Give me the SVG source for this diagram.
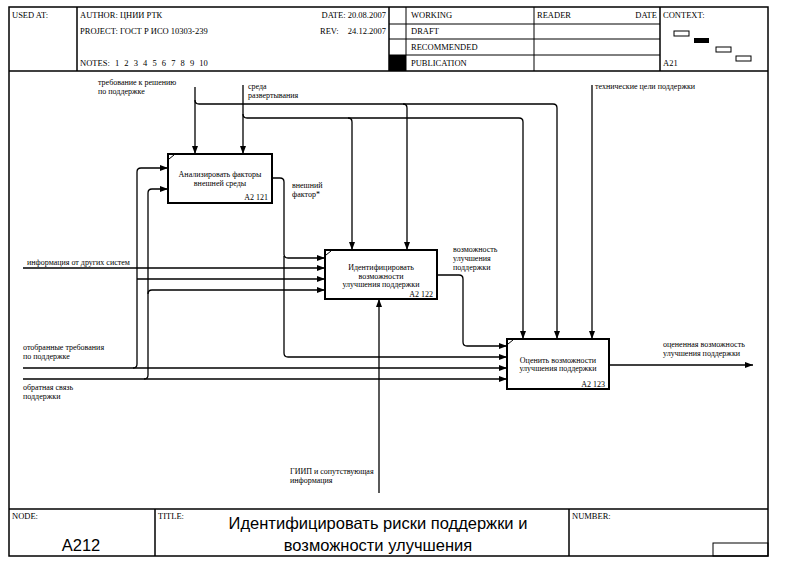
<svg xmlns="http://www.w3.org/2000/svg" width="786" height="565" viewBox="0 0 786 565">
<defs>
<marker id="ah" viewBox="0 0 8 6" refX="8" refY="3" markerWidth="8" markerHeight="6" markerUnits="userSpaceOnUse" orient="auto">
<path d="M0,0 L8,3 L0,6 z" fill="#000"/>
</marker>
<style>
.t{font-family:"Liberation Serif","Times New Roman",serif;font-size:8px;fill:#000}
.h{font-family:"Liberation Serif","Times New Roman",serif;font-size:8.5px;fill:#000}
.big{font-family:"Liberation Sans",Arial,sans-serif;font-size:16.5px;fill:#000}
.fr{fill:none;stroke:#000;stroke-width:1.5}
.ln{fill:none;stroke:#000;stroke-width:1}
.box{fill:#fff;stroke:#000;stroke-width:2}
.c{fill:none;stroke:#000;stroke-width:1.3}
.a{marker-end:url(#ah)}
</style>
</defs>
<rect width="786" height="565" fill="#fff"/>
<g id="frame">
<rect class="fr" x="9" y="7" width="759" height="549"/>
<line class="fr" x1="9" y1="71" x2="768" y2="71"/>
<line class="fr" x1="77" y1="7" x2="77" y2="71"/>
<line class="fr" x1="389" y1="7" x2="389" y2="71"/>
<line class="ln" x1="406" y1="7" x2="406" y2="71"/>
<line class="ln" x1="534" y1="7" x2="534" y2="71"/>
<line class="fr" x1="660" y1="7" x2="660" y2="71"/>
<line class="ln" x1="389" y1="24" x2="660" y2="24"/>
<line class="ln" x1="389" y1="39" x2="660" y2="39"/>
<line class="ln" x1="389" y1="55" x2="660" y2="55"/>
<rect x="389" y="55" width="17" height="16" fill="#000"/>
<rect x="674" y="31" width="15" height="5" fill="#fff" stroke="#000" stroke-width="1"/>
<rect x="694" y="38" width="15" height="5" fill="#000"/>
<rect x="716" y="47" width="15" height="5" fill="#fff" stroke="#000" stroke-width="1"/>
<rect x="736" y="56" width="15" height="5" fill="#fff" stroke="#000" stroke-width="1"/>
<text class="h" x="12" y="18">USED AT:</text>
<text class="h" x="80" y="18">AUTHOR:  ЦНИИ РТК</text>
<text class="h" x="80" y="34">PROJECT:  ГОСТ Р ИСО 10303-239</text>
<text class="h" x="80" y="66" word-spacing="3">NOTES:  1 2 3 4 5 6 7 8 9 10</text>
<text class="h" x="386" y="18" text-anchor="end">DATE:  20.08.2007</text>
<text class="h" x="320" y="34">REV:</text>
<text class="h" x="386" y="34" text-anchor="end">24.12.2007</text>
<text class="h" x="411" y="18">WORKING</text>
<text class="h" x="411" y="34">DRAFT</text>
<text class="h" x="411" y="50">RECOMMENDED</text>
<text class="h" x="411" y="66">PUBLICATION</text>
<text class="h" x="537" y="18">READER</text>
<text class="h" x="657" y="18" text-anchor="end">DATE</text>
<text class="h" x="663" y="18">CONTEXT:</text>
<text class="h" x="663" y="66">A21</text>
<line class="fr" x1="9" y1="509" x2="768" y2="509"/>
<line class="fr" x1="155" y1="509" x2="155" y2="556"/>
<line class="fr" x1="569" y1="509" x2="569" y2="556"/>
<rect class="ln" x="713" y="543" width="55" height="13"/>
<text class="h" x="12" y="519" font-size="7">NODE:</text>
<text class="h" x="158" y="519" font-size="7">TITLE:</text>
<text class="h" x="572" y="519" font-size="7">NUMBER:</text>
<text class="big" x="81" y="551" text-anchor="middle">A212</text>
<text class="big" x="378" y="529" text-anchor="middle">Идентифицировать риски  поддержки и</text>
<text class="big" x="378" y="551" text-anchor="middle">возможности  улучшения</text>
</g>
<g id="connectors">
<path class="c a" d="M195,87 V154"/>
<path class="c a" d="M195,100 q0,4 4,4 H553 q4,0 4,4 V339"/>
<path class="c a" d="M403,104 q4,0 4,4 V250"/>
<path class="c a" d="M243,85 V154"/>
<path class="c a" d="M243,114 q0,4 4,4 H519 q4,0 4,4 V339"/>
<path class="c a" d="M348,118 q4,0 4,4 V250"/>
<path class="c a" d="M592,85 V339"/>
<path class="c a" d="M23,268 H325"/>
<path class="c a" d="M23,368 H507"/>
<path class="c a" d="M133,368 q4,0 4,-4 V172 q0,-4 4,-4 H168"/>
<path class="c a" d="M137,279 H325"/>
<path class="c a" d="M23,379 H507"/>
<path class="c a" d="M144,379 q4,0 4,-4 V193 q0,-4 4,-4 H168"/>
<path class="c a" d="M148,294 q0,-4 4,-4 H325"/>
<path class="c a" d="M272,178 H280 q4,0 4,4 V254 q0,4 4,4 H325"/>
<path class="c a" d="M284,256 V353 q0,4 4,4 H507"/>
<path class="c a" d="M437,275 H459 q4,0 4,4 V342 q0,4 4,4 H507"/>
<path class="c a" d="M609,365 H753"/>
<path class="c a" d="M379,493 V299"/>
<text class="t" x="98" y="85">требование к решению</text>
<text class="t" x="98" y="94">по поддержке</text>
<text class="t" x="248" y="89">среда</text>
<text class="t" x="248" y="98">развертывания</text>
<text class="t" x="595" y="89">технические цели поддержки</text>
<text class="t" x="27" y="265">информация от других систем</text>
<text class="t" x="23" y="350">отобранные требования</text>
<text class="t" x="23" y="359">по поддержке</text>
<text class="t" x="23" y="390">обратная связь</text>
<text class="t" x="23" y="399">поддержки</text>
<text class="t" x="292" y="188">внешний</text>
<text class="t" x="292" y="197">фактор*</text>
<text class="t" x="453" y="252">возможность</text>
<text class="t" x="453" y="261">улучшения</text>
<text class="t" x="453" y="270">поддержки</text>
<text class="t" x="663" y="347">оцененная возможность</text>
<text class="t" x="663" y="356">улучшения поддержки</text>
<text class="t" x="290" y="474">ГИИП и сопутствующая</text>
<text class="t" x="290" y="483">информация</text>
</g>
<g id="A2121">
<rect class="box" x="168" y="154" width="104" height="49"/>
<line class="ln" x1="169" y1="159" x2="174" y2="155" stroke-width="1.5"/>
<text class="t" x="220" y="177" text-anchor="middle">Анализировать факторы</text>
<text class="t" x="220" y="186" text-anchor="middle">внешней среды</text>
<text class="t" x="268" y="200" text-anchor="end">A2 121</text>
</g>
<g id="A2122">
<rect class="box" x="325" y="250" width="112" height="49"/>
<line class="ln" x1="326" y1="255" x2="331" y2="251" stroke-width="1.5"/>
<text class="t" x="381" y="270" text-anchor="middle">Идентифицировать</text>
<text class="t" x="381" y="279" text-anchor="middle">возможности</text>
<text class="t" x="381" y="287" text-anchor="middle">улучшения поддержки</text>
<text class="t" x="433" y="297" text-anchor="end">A2 122</text>
</g>
<g id="A2123">
<rect class="box" x="507" y="339" width="102" height="50"/>
<line class="ln" x1="508" y1="344" x2="513" y2="340" stroke-width="1.5"/>
<text class="t" x="558" y="363" text-anchor="middle">Оценить возможности</text>
<text class="t" x="558" y="371" text-anchor="middle">улучшения поддержки</text>
<text class="t" x="605" y="387" text-anchor="end">A2 123</text>
</g>
</svg>
